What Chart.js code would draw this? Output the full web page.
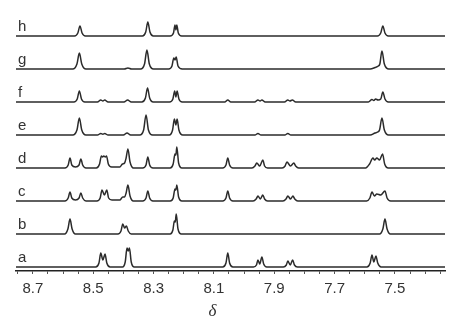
<!DOCTYPE html>
<html>
<head>
<meta charset="utf-8">
<script src="https://cdn.jsdelivr.net/npm/chart.js@4.4.0/dist/chart.umd.min.js"></script>
<style>
    html, body { margin: 0; padding: 0; background: #fff; }
    #wrap { width: 460px; height: 320px; position: relative; }
</style>
</head>
<body>
<div id="wrap"><canvas id="nmrChart"></canvas></div>
<script>
// Stacked 1H NMR spectra a-h, chemical shift (ppm) vs intensity
// Each spectrum: [ppm, intensity] points

const labels = ['a', 'b', 'c', 'd', 'e', 'f', 'g', 'h'];
const tickLabels = ['8.7', '8.5', '8.3', '8.1', '7.9', '7.7', '7.5'];

const specA = [
    [8.76, 0],
    [8.492, 0], [8.481, 4], [8.475, 14], [8.468, 7], [8.461, 13], [8.455, 4], [8.444, 0],
    [8.403, 0], [8.394, 5], [8.388, 19], [8.384, 16], [8.380, 19], [8.374, 5], [8.364, 0],
    [8.071, 0], [8.060, 4], [8.054, 14], [8.048, 4], [8.037, 0],
    [7.969, 0], [7.959, 2], [7.954, 7], [7.948, 3], [7.941, 10], [7.935, 3], [7.925, 0],
    [7.870, 0], [7.860, 2], [7.855, 6], [7.847, 2], [7.839, 7], [7.833, 2], [7.823, 0],
    [7.593, 0], [7.582, 4], [7.576, 12], [7.570, 5], [7.563, 11], [7.557, 4], [7.546, 0],
    [7.33, 0]
];
const specB = [
    [8.76, 0],
    [8.595, 0], [8.584, 5], [8.577, 15], [8.570, 5], [8.559, 0],
    [8.418, 0], [8.408, 3], [8.402, 10], [8.396, 6], [8.390, 8], [8.384, 3], [8.374, 0],
    [8.245, 0], [8.236, 4], [8.231, 13], [8.228, 12], [8.225, 20], [8.219, 5], [8.208, 0],
    [7.551, 0], [7.540, 5], [7.533, 15], [7.526, 5], [7.515, 0],
    [7.33, 0]
];
const specC = [
    [8.76, 0],
    [8.594, 0], [8.583, 3], [8.577, 9], [8.571, 3], [8.559, 1], [8.547, 3], [8.541, 8], [8.535, 3], [8.524, 0],
    [8.488, 0], [8.477, 3], [8.471, 11], [8.463, 6], [8.455, 11], [8.449, 3], [8.438, 1],
    [8.412, 1], [8.402, 4], [8.396, 4], [8.391, 8], [8.385, 16], [8.378, 5], [8.367, 0],
    [8.336, 0], [8.325, 3], [8.319, 10], [8.313, 3], [8.302, 0],
    [8.245, 0], [8.235, 3], [8.229, 12], [8.226, 11], [8.223, 16], [8.217, 4], [8.206, 0],
    [8.071, 0], [8.060, 3], [8.054, 10], [8.048, 3], [8.037, 0],
    [7.970, 0], [7.960, 2], [7.954, 5], [7.946, 2], [7.938, 6], [7.932, 2], [7.922, 0],
    [7.871, 0], [7.861, 2], [7.855, 5], [7.846, 2], [7.838, 5], [7.832, 2], [7.822, 0],
    [7.594, 0], [7.583, 3], [7.576, 9], [7.568, 5], [7.560, 7], [7.547, 6], [7.533, 10], [7.526, 3], [7.514, 0],
    [7.33, 0]
];
const specD = [
    [8.76, 0],
    [8.594, 0], [8.583, 3], [8.577, 10], [8.571, 3], [8.559, 1], [8.547, 3], [8.541, 9], [8.535, 3], [8.524, 0],
    [8.490, 0], [8.479, 4], [8.473, 12], [8.469, 11], [8.465, 12], [8.460, 11], [8.456, 12], [8.450, 4], [8.439, 1],
    [8.412, 1], [8.403, 4], [8.396, 5], [8.391, 10], [8.385, 19], [8.378, 6], [8.367, 0],
    [8.336, 0], [8.325, 3], [8.319, 11], [8.313, 3], [8.302, 0],
    [8.245, 0], [8.235, 4], [8.229, 14], [8.226, 13], [8.223, 21], [8.217, 5], [8.206, 0],
    [8.071, 0], [8.060, 3], [8.054, 10], [8.048, 3], [8.037, 0],
    [7.974, 0], [7.964, 2], [7.958, 5], [7.948, 2], [7.938, 8], [7.932, 2], [7.922, 0],
    [7.874, 0], [7.864, 2], [7.858, 6], [7.846, 2], [7.835, 5], [7.829, 2], [7.819, 0],
    [7.597, 0], [7.584, 4], [7.573, 10], [7.567, 8], [7.560, 10], [7.551, 8], [7.541, 14], [7.534, 4], [7.522, 0],
    [7.33, 0]
];
const specE = [
    [8.76, 0],
    [8.568, 0], [8.554, 5], [8.546, 17], [8.538, 5], [8.524, 0],
    [8.486, 0], [8.475, 1.5], [8.468, 0.8], [8.462, 1.5], [8.451, 0],
    [8.400, 0], [8.388, 2], [8.376, 0],
    [8.346, 0], [8.333, 5], [8.325, 20], [8.317, 5], [8.303, 0],
    [8.248, 0], [8.237, 5], [8.231, 16], [8.226, 10], [8.222, 16], [8.216, 5], [8.203, 0],
    [7.964, 0], [7.954, 1.5], [7.944, 0],
    [7.865, 0], [7.855, 1.5], [7.845, 0],
    [7.582, 0], [7.566, 2], [7.557, 3], [7.551, 5], [7.543, 17], [7.535, 5], [7.521, 0],
    [7.33, 0]
];
const specF = [
    [8.76, 0],
    [8.564, 0], [8.553, 3], [8.546, 11], [8.539, 3], [8.528, 0],
    [8.486, 0], [8.475, 2], [8.468, 1], [8.462, 2], [8.451, 0],
    [8.398, 0], [8.386, 2], [8.374, 0],
    [8.339, 0], [8.327, 4], [8.320, 14], [8.313, 4], [8.301, 0],
    [8.247, 0], [8.236, 3], [8.230, 11], [8.226, 5], [8.222, 11], [8.216, 3], [8.205, 0],
    [8.064, 0], [8.054, 2], [8.044, 0],
    [7.965, 0], [7.954, 2], [7.947, 1], [7.941, 2], [7.930, 0],
    [7.866, 0], [7.855, 2], [7.848, 1], [7.840, 2], [7.829, 0],
    [7.588, 0], [7.576, 2.5], [7.570, 1.5], [7.564, 3], [7.556, 2], [7.547, 3], [7.540, 10], [7.533, 3], [7.522, 0],
    [7.33, 0]
];
const specG = [
    [8.76, 0],
    [8.568, 0], [8.554, 5], [8.546, 16], [8.538, 5], [8.524, 0],
    [8.397, 0], [8.385, 1], [8.373, 0],
    [8.343, 0], [8.330, 5], [8.322, 19], [8.314, 5], [8.300, 0],
    [8.250, 0], [8.239, 3], [8.233, 11], [8.229, 9], [8.225, 12], [8.219, 3], [8.205, 0],
    [7.582, 0], [7.566, 1.5], [7.555, 3], [7.550, 5], [7.543, 18], [7.535, 5], [7.520, 0],
    [7.33, 0]
];
const specH = [
    [8.76, 0],
    [8.562, 0], [8.551, 3], [8.544, 10], [8.537, 3], [8.526, 0],
    [8.337, 0], [8.326, 4], [8.319, 14], [8.312, 4], [8.301, 0],
    [8.245, 0], [8.234, 3], [8.229, 11], [8.226, 6], [8.223, 11], [8.218, 3], [8.207, 0],
    [7.558, 0], [7.547, 3], [7.540, 10], [7.533, 3], [7.522, 0],
    [7.33, 0]
];

const spectra = [specA, specB, specC, specD, specE, specF, specG, specH];

document.addEventListener('DOMContentLoaded', function() {
    Chart.defaults.font.family = '"Liberation Sans", Arial, sans-serif';
    Chart.defaults.color = '#333';

    const lineColor = '#2b2b2b';
    const step = 33; // vertical offset between stacked spectra

    // letters a-h at the left of each trace, and the delta axis title
    const stackLabels = {
        id: 'stackLabels',
        afterDraw(chart) {
            const ctx = chart.ctx;
            const xs = chart.scales.x;
            const ys = chart.scales.y;
            ctx.save();
            ctx.fillStyle = '#333';
            ctx.font = '15px "Liberation Sans", Arial, sans-serif';
            ctx.textAlign = 'left';
            ctx.textBaseline = 'alphabetic';
            labels.forEach(function(name, i) {
                ctx.fillText(name, chart.chartArea.left + 2, ys.getPixelForValue(i * step) - 5);
            });
            ctx.font = 'italic 17px "Liberation Serif", "DejaVu Serif", serif';
            ctx.textAlign = 'center';
            ctx.fillText('δ', xs.getPixelForValue(8.105), 316);
            ctx.restore();
        }
    };

    const datasets = spectra.map(function(spec, i) {
        return {
            label: labels[i],
            data: spec.map(function(p) { return { x: p[0], y: p[1] + i * step }; }),
            borderColor: lineColor,
            borderWidth: 1.5,
            pointRadius: 0,
            fill: false,
            cubicInterpolationMode: 'monotone'
        };
    });

    new Chart(document.getElementById('nmrChart'), {
        type: 'line',
        data: { datasets: datasets },
        plugins: [stackLabels],
        options: {
            responsive: true,
            maintainAspectRatio: false,
            animation: false,
            layout: {
                padding: { left: 16, right: 15, top: 10, bottom: 16 }
            },
            plugins: {
                legend: { display: false },
                tooltip: { enabled: false }
            },
            scales: {
                x: {
                    type: 'linear',
                    reverse: true,
                    min: 7.334,
                    max: 8.756,
                    border: { display: true, color: '#222', width: 1.5 },
                    grid: {
                        drawOnChartArea: false,
                        drawTicks: true,
                        tickLength: 3,
                        color: '#555'
                    },
                    ticks: {
                        stepSize: 0.05,
                        includeBounds: false,
                        autoSkip: false,
                        maxRotation: 0,
                        padding: 6,
                        color: '#333',
                        font: { size: 15 },
                        callback: function(v) {
                            const s = v.toFixed(1);
                            return (Math.abs(v - parseFloat(s)) < 0.001 && tickLabels.includes(s)) ? s : '';
                        }
                    }
                },
                y: {
                    display: false,
                    min: -4,
                    max: 257
                }
            }
        }
    });
});
</script>
</body>
</html>
